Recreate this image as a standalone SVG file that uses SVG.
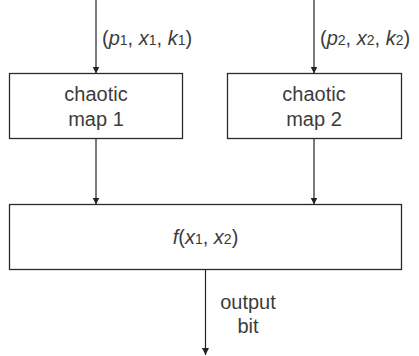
<svg xmlns="http://www.w3.org/2000/svg" width="419" height="356" viewBox="0 0 419 356">
  <style>
    .box { fill: #ffffff; stroke: #2b2b2b; stroke-width: 1.3; }
    .edge { fill: none; stroke: #222222; stroke-width: 1.2; marker-end: url(#arrow); }
    text { font-family: "Liberation Sans", Arial, sans-serif; font-size: 20px; fill: #3c3c3c; }
    .mid { text-anchor: middle; }
    .it { font-style: italic; }
    .sub { font-size: 14px; }
  </style>
  <defs>
    <marker id="arrow" viewBox="0 0 10 10" refX="10" refY="5" markerWidth="7" markerHeight="8" markerUnits="userSpaceOnUse" orient="auto">
      <path d="M0,0 L10,5 L0,10 Z" fill="#222222"/>
    </marker>
  </defs>

  <!-- connectors -->
  <g id="connectors">
    <line class="edge" x1="96" y1="0" x2="96" y2="73.5"/>
    <line class="edge" x1="314" y1="0" x2="314" y2="73.5"/>
    <line class="edge" x1="96" y1="138.5" x2="96" y2="204.5"/>
    <line class="edge" x1="314" y1="138.5" x2="314" y2="204.5"/>
    <line class="edge" x1="205.5" y1="269.5" x2="205.5" y2="355"/>
    <text x="102" y="45">(<tspan class="it">p</tspan><tspan class="sub">1</tspan>, <tspan class="it">x</tspan><tspan class="sub">1</tspan>, <tspan class="it">k</tspan><tspan class="sub">1</tspan>)</text>
    <text x="320" y="45">(<tspan class="it">p</tspan><tspan class="sub">2</tspan>, <tspan class="it">x</tspan><tspan class="sub">2</tspan>, <tspan class="it">k</tspan><tspan class="sub">2</tspan>)</text>
    <text class="mid" x="248" y="309">output</text>
    <text class="mid" x="248" y="333">bit</text>
  </g>

  <!-- chaotic map 1 -->
  <g id="map1">
    <rect class="box" x="9.5" y="73.5" width="173" height="65"/>
    <text class="mid" x="96" y="101">chaotic</text>
    <text class="mid" x="96" y="126">map 1</text>
  </g>

  <!-- chaotic map 2 -->
  <g id="map2">
    <rect class="box" x="227.5" y="73.5" width="174" height="65"/>
    <text class="mid" x="314" y="101">chaotic</text>
    <text class="mid" x="314" y="126">map 2</text>
  </g>

  <!-- combining function -->
  <g id="combine">
    <rect class="box" x="9.5" y="204.5" width="392" height="65"/>
    <text class="mid" x="205.5" y="244"><tspan class="it">f</tspan>(<tspan class="it">x</tspan><tspan class="sub">1</tspan>, <tspan class="it">x</tspan><tspan class="sub">2</tspan>)</text>
  </g>
</svg>
